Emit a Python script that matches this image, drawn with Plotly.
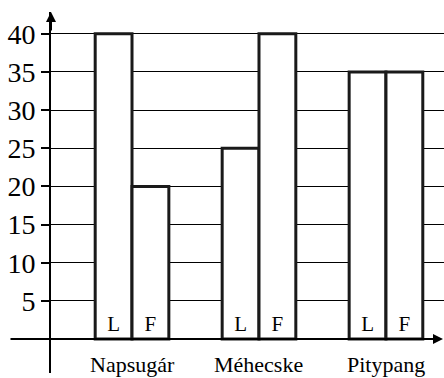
import plotly.graph_objects as go

# ---- data ----
categories = ["Napsugár", "Méhecske", "Pitypang"]
L_values = [40, 25, 35]
F_values = [20, 40, 35]
L_label = "L"
F_label = "F"
y_ticks = [5, 10, 15, 20, 25, 30, 35, 40]

FONT = "Times New Roman, Liberation Serif, Tinos, serif"
DARK = "#1a1a1a"

bar_style = dict(
    marker=dict(color="white", line=dict(color=DARK, width=3)),
    textposition="inside",
    insidetextanchor="start",
    textangle=0,
    textfont=dict(family=FONT, size=21, color="black"),
    constraintext="none",
    showlegend=False,
    hoverinfo="skip",
)

fig = go.Figure()
fig.add_trace(go.Bar(x=categories, y=L_values, text=[L_label] * len(categories), **bar_style))
fig.add_trace(go.Bar(x=categories, y=F_values, text=[F_label] * len(categories), **bar_style))

# category labels under the axis
annotations = []
for c in categories:
    annotations.append(dict(x=c, y=0, xref="x", yref="y", text=c, showarrow=False,
                            yanchor="top", yshift=-11,
                            font=dict(family=FONT, size=22, color="black")))
# x axis arrow
annotations.append(dict(x=1, y=0, xref="paper", yref="y", text="", showarrow=True,
                        axref="pixel", ayref="pixel", ax=-435, ay=0,
                        arrowhead=2, arrowsize=1, arrowwidth=2, arrowcolor="black"))
# y axis arrow
annotations.append(dict(x=0, y=1, xref="paper", yref="paper", text="", showarrow=True,
                        axref="pixel", ayref="pixel", ax=0, ay=20,
                        arrowhead=2, arrowsize=1, arrowwidth=2, arrowcolor="black"))

fig.update_layout(
    width=444, height=378,
    margin=dict(l=51, r=0, t=12, b=5),
    paper_bgcolor="white", plot_bgcolor="white",
    font=dict(family=FONT, color="black"),
    barmode="group", bargap=0.42, bargroupgap=0,
    annotations=annotations,
    xaxis=dict(range=[-0.638, 2.457], showticklabels=False, showgrid=False,
               zeroline=False, showline=False, ticks=""),
    yaxis=dict(range=[-4.456, 42.86], tickvals=y_ticks, ticktext=[str(v) for v in y_ticks],
               showgrid=True, gridcolor="black", gridwidth=1.3,
               zeroline=False, showline=True, linecolor="black", linewidth=2,
               ticks="outside", ticklen=8, tickwidth=1.5, tickcolor="black",
               tickfont=dict(family=FONT, size=28, color="black")),
)

fig.write_html("out.html", config={"displayModeBar": False},
               post_script="document.body.style.margin='0';document.body.style.overflow='hidden';")
